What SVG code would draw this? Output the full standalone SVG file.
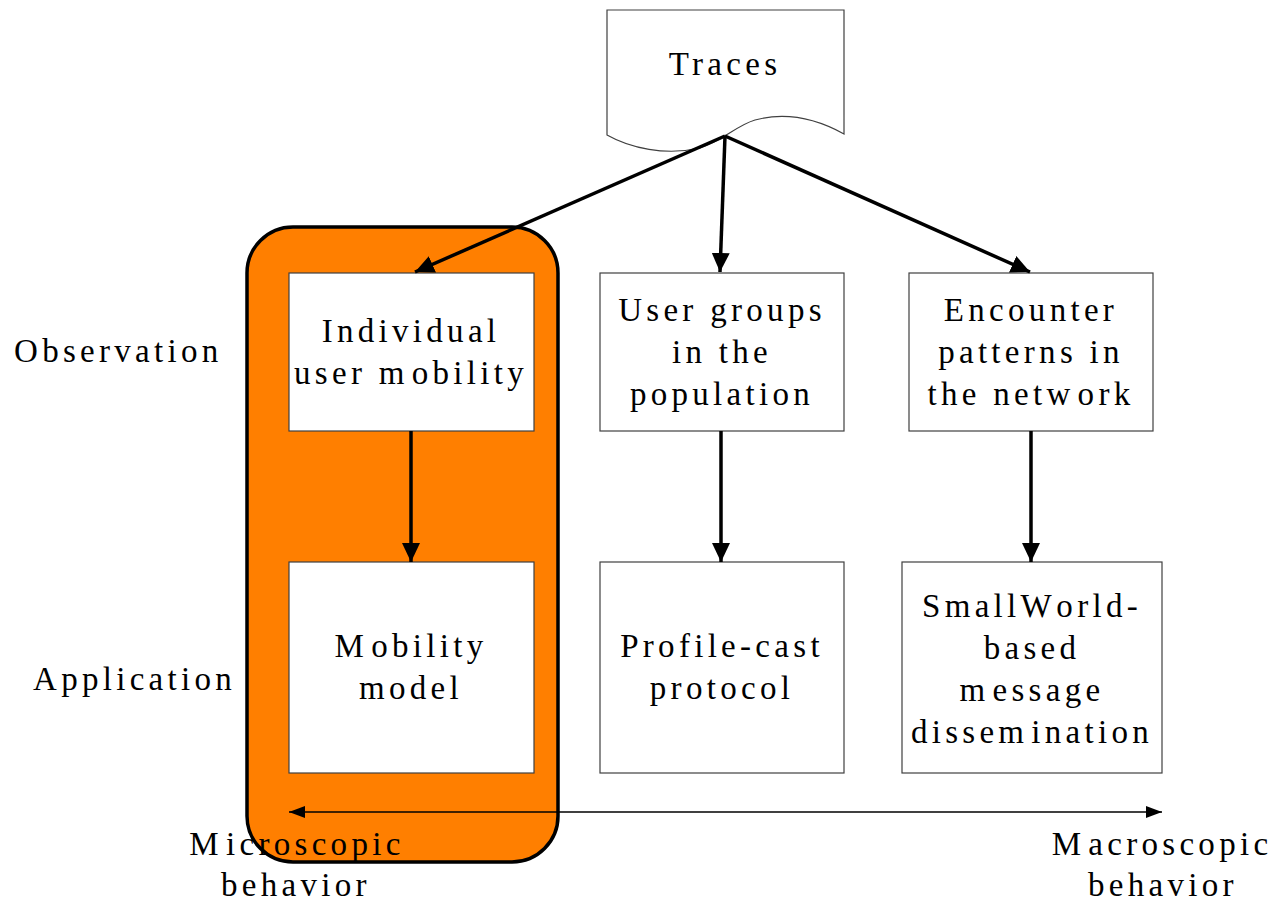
<svg xmlns="http://www.w3.org/2000/svg" width="1276" height="901" viewBox="0 0 1276 901">
  <style>
    .lbl { font-family: "Liberation Serif", "Times New Roman", serif; font-size: 33px; letter-spacing: 4.3px; fill: #000; }
    .mid { text-anchor: middle; }
    .box { fill: #fff; stroke: #404040; stroke-width: 1.2; }
    .edge { stroke: #000; stroke-width: 3.5; fill: none; }
    .axis { stroke: #000; stroke-width: 1.6; fill: none; }
  </style>
  <defs>
    <marker id="head" markerUnits="userSpaceOnUse" markerWidth="20" markerHeight="18" refX="19" refY="9" orient="auto">
      <path d="M0,0 L19,9 L0,18 Z" fill="#000"/>
    </marker>
    <marker id="headSmall" markerUnits="userSpaceOnUse" markerWidth="16" markerHeight="12" refX="16" refY="6" orient="auto-start-reverse">
      <path d="M0,0 L16,6 L0,12 Z" fill="#000"/>
    </marker>
  </defs>

  <rect width="1276" height="901" fill="#fff"/>

  <!-- highlighted microscopic column -->
  <g id="micro-group">
    <rect x="247" y="227" width="311" height="635" rx="46" ry="46" fill="#FF7F00" stroke="#000" stroke-width="3.5"/>
  </g>

  <!-- source document -->
  <g id="traces">
    <path d="M607,10 L844,10 L844,134 C815,118 785,112 755,120 C735,126 725,140 700,148 C665,156 630,148 607,135 Z" fill="#fff" stroke="#404040" stroke-width="1.2"/>
    <text class="lbl mid" x="725" y="75">Traces</text>
  </g>

  <g id="individual-mobility">
    <rect class="box" x="289" y="273" width="245" height="158"/>
    <text class="lbl mid" x="411" y="342">Individual</text>
    <text class="lbl mid" x="411" y="384">user m<tspan dx="3">obility</tspan></text>
  </g>

  <g id="user-groups">
    <rect class="box" x="600" y="273" width="244" height="158"/>
    <text class="lbl mid" x="722" y="321">User groups</text>
    <text class="lbl mid" x="722" y="363">in the</text>
    <text class="lbl mid" x="722" y="405">population</text>
  </g>

  <g id="encounter-patterns">
    <rect class="box" x="909" y="273" width="244" height="158"/>
    <text class="lbl mid" x="1031" y="321">Encounter</text>
    <text class="lbl mid" x="1031" y="363">patterns in</text>
    <text class="lbl mid" x="1031" y="405">the netw<tspan dx="3">ork</tspan></text>
  </g>

  <g id="mobility-model">
    <rect class="box" x="289" y="562" width="245" height="211"/>
    <text class="lbl mid" x="411" y="657">M<tspan dx="3">obility</tspan></text>
    <text class="lbl mid" x="411" y="699">model</text>
  </g>

  <g id="profile-cast">
    <rect class="box" x="600" y="562" width="244" height="211"/>
    <text class="lbl mid" x="722" y="657">Profile-cast</text>
    <text class="lbl mid" x="722" y="699">protocol</text>
  </g>

  <g id="smallworld">
    <rect class="box" x="902" y="562" width="260" height="211"/>
    <text class="lbl mid" x="1032" y="617">SmallW<tspan dx="3">orld-</tspan></text>
    <text class="lbl mid" x="1032" y="659">based</text>
    <text class="lbl mid" x="1032" y="701">m<tspan dx="3">essage</tspan></text>
    <text class="lbl mid" x="1032" y="743">dissem<tspan dx="3">ination</tspan></text>
  </g>

  <!-- row and axis labels -->
  <g id="labels">
    <text class="lbl" x="14" y="362">Observation</text>
    <text class="lbl" x="33" y="690">Application</text>
    <text class="lbl mid" x="297" y="855">M<tspan dx="3">icroscopic</tspan></text>
    <text class="lbl mid" x="296" y="896">behavior</text>
    <text class="lbl mid" x="1162" y="855">M<tspan dx="3">acroscopic</tspan></text>
    <text class="lbl mid" x="1163" y="896">behavior</text>
  </g>

  <g id="connectors">
    <line class="edge" x1="725" y1="136" x2="415" y2="272" marker-end="url(#head)"/>
    <line class="edge" x1="725" y1="136" x2="720" y2="272" marker-end="url(#head)"/>
    <line class="edge" x1="725" y1="136" x2="1030" y2="272" marker-end="url(#head)"/>
    <line class="edge" x1="411" y1="431" x2="411" y2="562" marker-end="url(#head)"/>
    <line class="edge" x1="721" y1="431" x2="721" y2="562" marker-end="url(#head)"/>
    <line class="edge" x1="1031" y1="431" x2="1031" y2="562" marker-end="url(#head)"/>
    <line class="axis" x1="289" y1="812" x2="1162" y2="812" marker-start="url(#headSmall)" marker-end="url(#headSmall)"/>
  </g>
</svg>
